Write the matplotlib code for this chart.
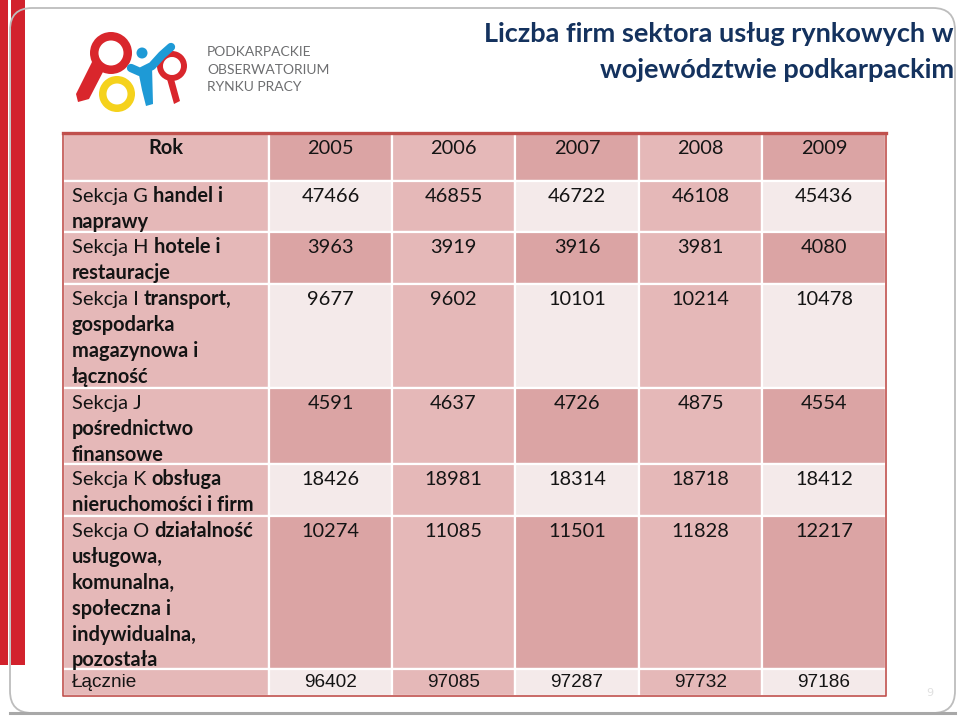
import matplotlib
matplotlib.use('Agg')
import matplotlib.pyplot as plt
from matplotlib.patches import Rectangle, Wedge, Polygon, Circle, FancyBboxPatch

# table data
header_label = 'Rok'
years = ['2005', '2006', '2007', '2008', '2009']
# each label line: (regular part, bold part)
row_labels = [
    [('Sekcja G', 'handel i'), ('', 'naprawy')],
    [('Sekcja H', 'hotele i'), ('', 'restauracje')],
    [('Sekcja I', 'transport,'), ('', 'gospodarka'), ('', 'magazynowa i'), ('', 'łączność')],
    [('Sekcja J', ''), ('', 'pośrednictwo'), ('', 'finansowe')],
    [('Sekcja K', 'obsługa'), ('', 'nieruchomości i firm')],
    [('Sekcja O', 'działalność'), ('', 'usługowa,'), ('', 'komunalna,'),
     ('', 'społeczna i'), ('', 'indywidualna,'), ('', 'pozostała')],
]
vals_g = [47466, 46855, 46722, 46108, 45436]
vals_h = [3963, 3919, 3916, 3981, 4080]
vals_i = [9677, 9602, 10101, 10214, 10478]
vals_j = [4591, 4637, 4726, 4875, 4554]
vals_k = [18426, 18981, 18314, 18718, 18412]
vals_o = [10274, 11085, 11501, 11828, 12217]
total_label = 'Łącznie'
vals_total = [96402, 97085, 97287, 97732, 97186]
section_values = [vals_g, vals_h, vals_i, vals_j, vals_k, vals_o]

title_lines = ['Liczba firm sektora usług rynkowych w', 'województwie podkarpackim']
logo_lines = ['PODKARPACKIE', 'OBSERWATORIUM', 'RYNKU PRACY']

# layout (pixels)
col_edges = [63, 269, 392, 515, 639, 762, 886]
row_heights = [48, 51, 52, 104, 76, 52, 153, 27]
table_top = 133
line_h = 25.9

DARK = '#dba4a4'
MED = '#e5b8b8'
VLIGHT = '#f4eaea'
RED = '#c0504d'
TXT = '#141414'

fig = plt.figure(figsize=(9.6, 7.18), dpi=100)
ax = fig.add_axes([0, 0, 1, 1])
ax.set_xlim(0, 960)
ax.set_ylim(718, 0)
ax.axis('off')
renderer = fig.canvas.get_renderer()

# slide decorations
ax.add_patch(Rectangle((0, 0), 8, 665, color='#d2222d', lw=0))
ax.add_patch(Rectangle((11, 0), 14, 665, color='#d2222d', lw=0))
ax.add_patch(FancyBboxPatch((10, 8), 945, 705, boxstyle='round,pad=0,rounding_size=22',
                            fill=False, ec='#bdbdbd', lw=1.3))
ax.plot([10, 955], [713, 713], color='#a8a8a8', lw=2.2)

# logo
ax.add_patch(Wedge((111, 53), 21, 0, 360, width=8.5, color='#d9262c', lw=0))
ax.add_patch(Polygon([[93, 60], [104, 70], [89, 99], [78, 102], [76, 94]], closed=True,
                     color='#d9262c', lw=0))
ax.add_patch(Wedge((117, 94), 18, 0, 360, width=7.5, color='#f5d21c', lw=0))
ax.add_patch(Circle((142, 53), 5.5, color='#1e9ad6', lw=0))
ax.plot([131, 140, 152, 162, 171], [68, 72, 66, 55, 47], color='#1e9ad6', lw=6,
        solid_capstyle='round')
ax.add_patch(Polygon([[138, 70], [152, 66], [153, 104], [146, 106], [142, 90]], closed=True,
                     color='#1e9ad6', lw=0))
ax.add_patch(Wedge((172, 66), 15, 0, 360, width=6, color='#d9262c', lw=0))
ax.add_patch(Polygon([[167, 79], [174, 79], [180, 101], [174, 104]], closed=True,
                     color='#d9262c', lw=0))
for k, txt in enumerate(logo_lines):
    ax.text(207, 52 + k * 17.5, txt, fontsize=10, family='Lato', color='#6d6e70',
            va='center', ha='left')

# title
for k, txt in enumerate(title_lines):
    ax.text(954, 34 + k * 36, txt, fontsize=19.5, family='Lato', weight='bold',
            color='#14325e', va='center', ha='right')

# page number
ax.text(930, 693, '9', fontsize=8, color='#e0e0e0', ha='center', va='center')


def cell_color(r, c):
    if c == 0:
        return MED
    if r % 2 == 0:
        return DARK if c % 2 == 1 else MED
    return VLIGHT if c % 2 == 1 else MED


def mixed_line(x, y, regular, bold, fs):
    if regular:
        t = ax.text(x, y, regular, fontsize=fs, family='Lato', color=TXT, va='baseline')
        bb = t.get_window_extent(renderer).transformed(ax.transData.inverted())
        x = bb.x1 + 5
    if bold:
        ax.text(x, y, bold, fontsize=fs, family='Lato', weight='bold', color=TXT,
                va='baseline')


fs = 14.4
tops = [table_top]
for h in row_heights:
    tops.append(tops[-1] + h)

for r, h in enumerate(row_heights):
    y0 = tops[r]
    for c in range(6):
        x0 = col_edges[c]
        w = col_edges[c + 1] - x0
        ax.add_patch(Rectangle((x0, y0), w, h, fc=cell_color(r, c), ec='white', lw=1.6))
    if r == 0:
        ax.text((col_edges[0] + col_edges[1]) / 2, y0 + 21, header_label, fontsize=fs,
                family='Lato', weight='bold', color=TXT, ha='center', va='baseline')
        for c, yr in enumerate(years):
            ax.text((col_edges[c + 1] + col_edges[c + 2]) / 2, y0 + 21, yr, fontsize=fs,
                    family='Lato', color=TXT, ha='center', va='baseline')
    elif r <= len(row_labels):
        for k, (reg, bld) in enumerate(row_labels[r - 1]):
            mixed_line(72, y0 + 21 + k * line_h, reg, bld, fs)
        for c, v in enumerate(section_values[r - 1]):
            ax.text((col_edges[c + 1] + col_edges[c + 2]) / 2, y0 + 21, str(v), fontsize=fs,
                    family='Lato', color=TXT, ha='center', va='baseline')
    else:
        yc = y0 + h / 2
        ax.text(72, yc, total_label, fontsize=13.7, family='Liberation Sans', color=TXT,
                ha='left', va='center')
        for c, v in enumerate(vals_total):
            ax.text((col_edges[c + 1] + col_edges[c + 2]) / 2, yc, str(v), fontsize=13.7,
                    family='Liberation Sans', color=TXT, ha='center', va='center')

# table border
bottom = tops[-1]
ax.plot([col_edges[0], col_edges[-1]], [table_top, table_top], color=RED, lw=2.4)
ax.plot([col_edges[0], col_edges[0], col_edges[-1], col_edges[-1]],
        [table_top, bottom, bottom, table_top], color=RED, lw=1.2)

fig.savefig('out.png', dpi=100)
